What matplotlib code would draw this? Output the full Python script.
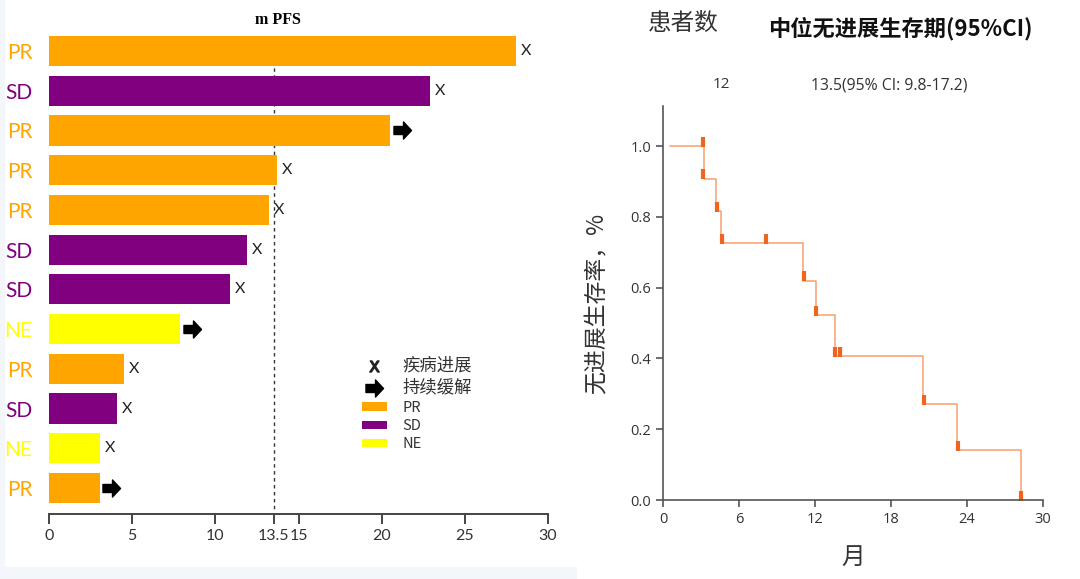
import matplotlib
matplotlib.use("Agg")
import matplotlib.pyplot as plt
from matplotlib.path import Path
from matplotlib.lines import Line2D
from matplotlib.patches import Patch, Rectangle

# ---- swimmer plot data (top to bottom) ----
categories = ["PR", "SD", "PR", "PR", "PR", "SD", "SD", "NE", "PR", "SD", "NE", "PR"]
pfs_months = [28.1, 22.9, 20.5, 13.7, 13.2, 11.9, 10.9, 7.9, 4.5, 4.1, 3.05, 3.05]
outcomes = ["pd", "pd", "ongoing", "pd", "pd", "pd", "pd", "ongoing",
            "pd", "pd", "pd", "ongoing"]
median_pfs = 13.5
swim_ticks = [0, 5, 10, 13.5, 15, 20, 25, 30]
swim_tick_labels = ["0", "5", "10", "13.5", "15", "20", "25", "30"]
legend_labels = ["疾病进展", "持续缓解", "PR", "SD", "NE"]

# ---- Kaplan-Meier data ----
km_times = [0.55, 3.26, 4.18, 4.6, 11.03, 12.08, 13.58, 20.5, 23.18, 28.23]
km_surv = [1.0, 0.908, 0.816, 0.725, 0.62, 0.523, 0.407, 0.271, 0.141, 0.0]
censor_times = [3.13, 3.13, 4.28, 4.63, 8.13, 11.13, 12.08, 13.55, 14.0,
                20.63, 23.26, 28.23]
censor_surv = [1.01, 0.92, 0.827, 0.736, 0.736, 0.633, 0.533, 0.417, 0.417,
               0.282, 0.153, 0.011]
km_xticks = [0, 6, 12, 18, 24, 30]
km_yticks = [0.0, 0.2, 0.4, 0.6, 0.8, 1.0]
n_patients = "12"
median_text = "13.5(95% CI: 9.8-17.2)"

COLORS = {"PR": "#FFA500", "SD": "#800080", "NE": "#FFFF00"}
CJK = ["Noto Sans CJK SC", "DejaVu Sans"]


def arrow_marker() -> Path:
    """Block arrow pointing right, used for ongoing response"""
    verts = [(-0.85, -0.4), (0.1, -0.4), (0.1, -0.85), (0.9, 0.0),
             (0.1, 0.85), (0.1, 0.4), (-0.85, 0.4), (-0.85, -0.4)]
    codes = [Path.MOVETO] + [Path.LINETO] * 6 + [Path.CLOSEPOLY]
    return Path(verts, codes)


def draw_swimmer(fig, ax):
    """Horizontal bars of PFS per patient"""
    ypos = list(range(len(categories)))
    colors = [COLORS[c] for c in categories]
    ax.vlines(median_pfs, -0.1, len(categories) - 0.4, colors="#333333",
              linestyles=(0, (2.5, 2.5)), lw=1.0, zorder=1)
    ax.barh(ypos, pfs_months, height=0.76, color=colors, zorder=2)

    arrow = arrow_marker()
    for y, val, out in zip(ypos, pfs_months, outcomes):
        if out == "pd":
            ax.text(val + 0.6, y, "X", ha="center", va="center",
                    fontsize=11.5, family="Lato", color="#222222")
        else:
            ax.plot(val + 0.7, y, marker=arrow, ms=13, color="black",
                    ls="none", clip_on=False)

    ax.set_xlim(0, 30)
    ax.set_ylim(11.655, -0.53)
    ax.set_yticks(ypos, categories)
    for lab, cat in zip(ax.get_yticklabels(), categories):
        lab.set_color(COLORS[cat])
        lab.set_family("Lato")
        lab.set_fontsize(15)
    ax.tick_params(axis="y", length=0, pad=12)

    ax.set_xticks(swim_ticks, swim_tick_labels)
    ax.tick_params(axis="x", length=7, width=1.4, color="#444444",
                   labelsize=11.5, labelcolor="#333333", pad=4)
    for lab in ax.get_xticklabels():
        lab.set_family("Lato")
    for side in ["top", "right", "left"]:
        ax.spines[side].set_visible(False)
    ax.spines["bottom"].set_color("#444444")
    ax.spines["bottom"].set_linewidth(1.4)

    fig.text(278 / 1080, 1 - 20 / 579, "m PFS", ha="center", va="center",
             family="Liberation Serif", fontweight="bold", fontsize=11.5)

    handles = [
        Line2D([], [], ls="none", marker=r"$\mathsf{X}$", ms=8,
               color="#222222"),
        Line2D([], [], ls="none", marker=arrow, ms=13, color="black"),
        Patch(fc=COLORS["PR"]),
        Patch(fc=COLORS["SD"]),
        Patch(fc=COLORS["NE"]),
    ]
    leg = ax.legend(handles, legend_labels, loc="upper left",
                    bbox_to_anchor=(0.627, 0.326), frameon=False,
                    borderpad=0, borderaxespad=0, handlelength=1.8,
                    handleheight=0.55, handletextpad=1.1, labelspacing=0.3,
                    prop={"family": CJK, "size": 10})
    for i, txt in enumerate(leg.get_texts()):
        txt.set_fontsize(12.5 if i < 2 else 10.5)
        txt.set_color("#333333")


def draw_km(fig, ax):
    """Kaplan-Meier PFS curve"""
    ax.plot(km_times, km_surv, drawstyle="steps-post", color="#F5A16E",
            lw=1.1)
    ax.plot(censor_times, censor_surv, ls="none", marker="|", ms=7.5,
            mew=3, color="#F0651E", clip_on=False)

    ax.set_xlim(0, 30)
    ax.set_ylim(0, 1.113)
    ax.set_xticks(km_xticks)
    ax.set_yticks(km_yticks, [f"{v:.1f}" for v in km_yticks])
    ax.tick_params(length=5, width=1.2, color="#555555", labelsize=10.5,
                   labelcolor="#333333")
    for lab in ax.get_xticklabels() + ax.get_yticklabels():
        lab.set_family("Open Sans")
    for side in ["top", "right"]:
        ax.spines[side].set_visible(False)
    for side in ["left", "bottom"]:
        ax.spines[side].set_color("#555555")
        ax.spines[side].set_linewidth(1.2)

    ax.set_xlabel("月", family=CJK, fontsize=17, color="#333333",
                  labelpad=14)
    ax.set_ylabel("无进展生存率，%", family=CJK, fontsize=16.5,
                  color="#333333", labelpad=16)

    fig.text(683 / 1080, 1 - 23 / 579, "患者数", ha="center", va="center",
             family=CJK, fontsize=17, color="#333333")
    fig.text(900 / 1080, 1 - 29 / 579, "中位无进展生存期(95%CI)",
             ha="center", va="center", family=CJK, fontsize=16,
             fontweight="bold", color="#111111")
    fig.text(721 / 1080, 1 - 85 / 579, n_patients, ha="center",
             va="center", family="Open Sans", fontsize=11, color="#333333")
    fig.text(889 / 1080, 1 - 85 / 579, median_text, ha="center",
             va="center", family="Open Sans", fontsize=11.3, color="#333333")


def main():
    fig = plt.figure(figsize=(10.8, 5.79), dpi=100)
    band = "#F3F6FA"
    fig.patches.append(Rectangle((0, 0), 576 / 1080, 12 / 579, color=band,
                                 transform=fig.transFigure, zorder=-1))
    fig.patches.append(Rectangle((0, 0), 4 / 1080, 1, color=band,
                                 transform=fig.transFigure, zorder=-1))

    ax_l = fig.add_axes([49 / 1080, 65 / 579, 499 / 1080, 484 / 579])
    ax_r = fig.add_axes([663 / 1080, 79 / 579, 380 / 1080, 394 / 579])
    draw_swimmer(fig, ax_l)
    draw_km(fig, ax_r)

    fig.savefig("out.png", dpi=100)


if __name__ == "__main__":
    main()
